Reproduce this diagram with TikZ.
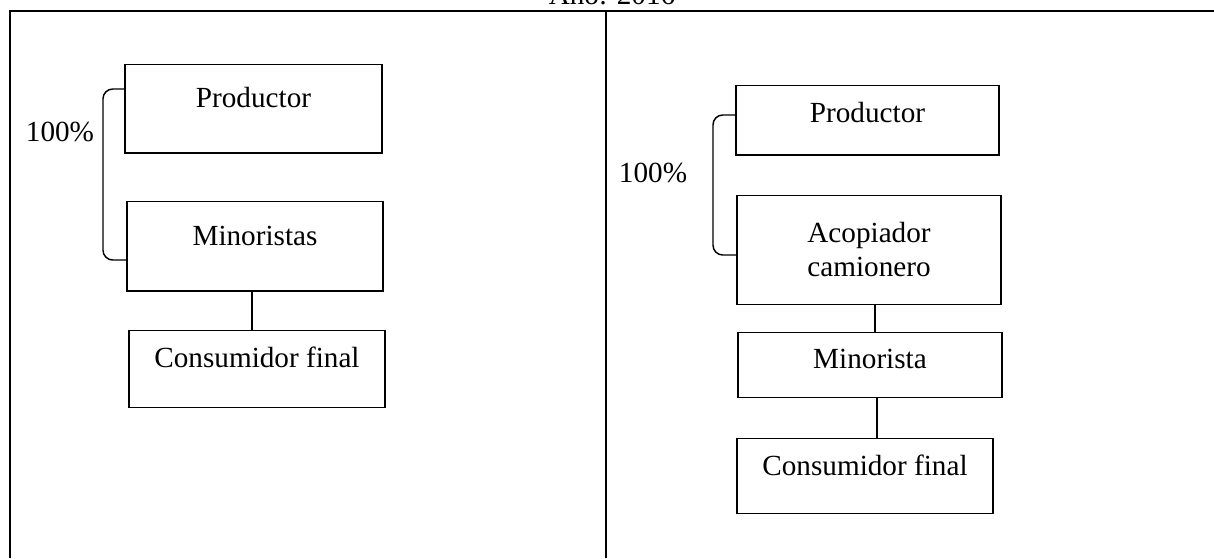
\documentclass[tikz,border=0pt]{standalone}
\usepackage{fontspec}
\setmainfont{Liberation Serif}
\usetikzlibrary{positioning}

\begin{document}
\begin{tikzpicture}[
  x=0.411pt, y=-0.411pt,
  box/.style={
    rectangle, draw=black, line width=0.6pt,
    inner xsep=0pt, inner ysep=0pt, anchor=north,
    font=\fontsize{12}{14}\selectfont
  },
  lbl/.style={font=\fontsize{12}{14}\selectfont, inner sep=0pt},
  link/.style={draw=black, line width=0.6pt},
  rule/.style={draw=black, line width=0.7pt}
]
\clip (0,0) rectangle (1214,558);

% table frame
\node[lbl, anchor=base] (anio) at (612,4) {Año: 2016};
\draw[rule] (10,558) -- (10,11) -- (1214,11);
\draw[rule] (606,11) -- (606,558);

% left column
\node[box, minimum width=105.6pt, text height=17.7pt, text depth=18.5pt] (prodL) at (253.5,64) {Productor};
\node[box, minimum width=105.2pt, text height=18.1pt, text depth=18.5pt] (minL) at (255,201) {Minoristas};
\node[box, minimum width=105.2pt, text height=15.2pt, text depth=16.4pt] (consL) at (257,330) {Consumidor final};
\node[lbl] (pctL) at (60,132) {100\%};

\draw[link, rounded corners=4pt] (prodL.west |- 0,89) -| (103,260) -- (minL.west |- 0,260);
\draw[link] (minL.south -| 252,0) -- (consL.north -| 252,0);

% right column
\node[box, minimum width=108.1pt, text height=15.2pt, text depth=13.2pt] (prodR) at (867.5,85) {Productor};
\node[box, minimum width=108.5pt, text height=19.3pt, text depth=25.5pt] (acopR) at (869,195)
  {\begin{tabular}[t]{@{}c@{}}Acopiador\\camionero\end{tabular}};
\node[box, minimum width=108.5pt, text height=14.8pt, text depth=11.9pt] (minR) at (870,332) {Minorista};
\node[box, minimum width=105.2pt, text height=15.2pt, text depth=15.6pt] (consR) at (865,438) {Consumidor final};
\node[lbl] (pctR) at (653,173) {100\%};

\draw[link, rounded corners=4pt] (prodR.west |- 0,115) -| (713,255) -- (acopR.west |- 0,255);
\draw[link] (acopR.south -| 875,0) -- (minR.north -| 875,0);
\draw[link] (minR.south -| 877,0) -- (consR.north -| 877,0);

\end{tikzpicture}
\end{document}
